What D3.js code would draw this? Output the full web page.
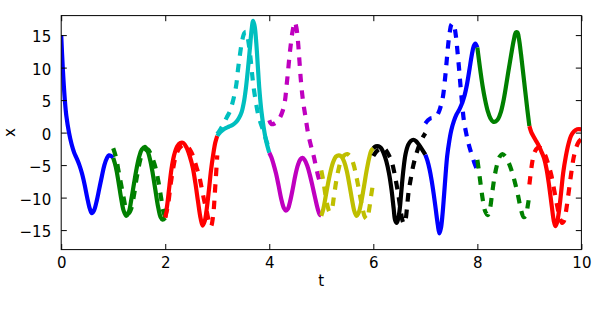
<!DOCTYPE html>
<html><head><meta charset="utf-8">
<script src="https://cdn.jsdelivr.net/npm/d3@7"></script>
<style>body{margin:0;background:#fff}svg{display:block}text{font-family:"DejaVu Sans",sans-serif;font-size:15px;fill:#000}</style>
</head><body><svg id="c" width="612" height="312"></svg>
<script>
// ---- data (t, x) ----
const xTicks = [0, 2, 4, 6, 8, 10];
const yTicks = [-15, -10, -5, 0, 5, 10, 15];
const colorCycle = ["b", "g", "r", "c", "m", "y", "k", "b", "g", "r"];

const fine0 = [[0,15],[0.03,10],[0.07,5],[0.1,2.5],[0.15,0],[0.2,-1.8],[0.25,-3.1],[0.3,-4.0],[0.35,-5.0],[0.4,-6.3],[0.45,-8.0],[0.5,-10.0],[0.55,-11.7],[0.59,-12.4],[0.63,-12.0],[0.68,-10.6],[0.73,-8.7],[0.78,-6.8],[0.83,-5.0],[0.88,-3.9],[0.92,-3.5],[0.96,-3.6],[1.0,-3.9]];
const fine1 = [[1.0,-3.9],[1.05,-5.3],[1.1,-7.5],[1.15,-10.0],[1.2,-12.0],[1.25,-12.8],[1.3,-12.2],[1.35,-10.2],[1.4,-7.8],[1.45,-5.5],[1.5,-3.7],[1.55,-2.6],[1.61,-2.2],[1.66,-2.8],[1.71,-4.2],[1.76,-6.3],[1.81,-8.8],[1.86,-11.3],[1.91,-13.0],[1.95,-13.4],[2.0,-13.1]];
const fine2 = [[2.0,-13.1],[2.04,-11.0],[2.08,-8.2],[2.12,-5.6],[2.17,-3.5],[2.23,-2.1],[2.29,-1.6],[2.35,-1.6],[2.41,-2.3],[2.47,-3.6],[2.53,-5.4],[2.58,-7.8],[2.63,-10.6],[2.68,-13.2],[2.72,-14.3],[2.76,-13.6],[2.8,-11.6],[2.84,-8.8],[2.88,-5.8],[2.92,-3.5],[2.96,-1.6],[3.0,-0.5]];
const fine3 = [[3.0,-0.5],[3.06,0.1],[3.14,0.6],[3.22,0.9],[3.3,1.2],[3.36,1.6],[3.42,2.3],[3.47,3.2],[3.51,4.6],[3.55,6.8],[3.59,9.8],[3.63,13.2],[3.66,15.8],[3.69,17.2],[3.72,16.3],[3.75,13.8],[3.78,10.2],[3.81,6.6],[3.85,3.2],[3.89,0.9],[3.94,-1.3],[4.0,-3.1]];
const fine4 = [[4.0,-3.1],[4.04,-3.8],[4.08,-4.8],[4.13,-6.3],[4.18,-8.2],[4.23,-10.2],[4.28,-11.6],[4.32,-12.0],[4.36,-11.7],[4.4,-10.6],[4.45,-8.7],[4.5,-6.6],[4.55,-5.0],[4.6,-4.1],[4.64,-3.9],[4.68,-4.2],[4.73,-5.1],[4.78,-6.5],[4.83,-8.2],[4.88,-10.0],[4.93,-11.7],[4.97,-12.6],[5.0,-12.8]];
const fine5 = [[5.0,-12.8],[5.04,-11.7],[5.08,-10.0],[5.13,-7.8],[5.18,-5.9],[5.23,-4.5],[5.28,-3.7],[5.34,-3.5],[5.39,-3.7],[5.44,-4.5],[5.49,-5.9],[5.54,-8.0],[5.59,-10.3],[5.64,-12.2],[5.68,-12.8],[5.72,-12.3],[5.77,-10.6],[5.82,-8.3],[5.87,-5.9],[5.92,-3.9],[5.96,-2.8],[6.0,-2.4]];
const fine6 = [[6.0,-2.4],[6.05,-2.1],[6.1,-2.1],[6.15,-2.4],[6.2,-3.2],[6.25,-4.4],[6.3,-6.2],[6.35,-8.8],[6.39,-11.6],[6.42,-13.5],[6.45,-13.9],[6.48,-13.2],[6.51,-11.6],[6.54,-8.9],[6.58,-5.6],[6.62,-3.3],[6.67,-1.9],[6.72,-1.3],[6.77,-1.1],[6.82,-1.3],[6.87,-1.8],[6.93,-2.5],[7.0,-3.4]];
const fine7 = [[7.0,-3.4],[7.04,-4.3],[7.08,-5.6],[7.12,-7.3],[7.16,-9.4],[7.2,-11.8],[7.24,-14.2],[7.27,-15.5],[7.3,-14.7],[7.33,-12.6],[7.36,-9.6],[7.39,-6.4],[7.42,-3.6],[7.46,-1.3],[7.5,0.4],[7.55,1.8],[7.6,2.8],[7.65,3.5],[7.7,4.4],[7.75,5.6],[7.8,7.4],[7.85,9.8],[7.89,11.8],[7.93,13.3],[7.96,13.7],[8.0,13.1]];
const fine8 = [[8.0,13.1],[8.03,11.2],[8.06,9.4],[8.1,7.2],[8.15,5.0],[8.2,3.3],[8.25,2.2],[8.3,1.7],[8.35,1.7],[8.4,2.1],[8.45,3.1],[8.5,4.8],[8.55,7.1],[8.6,9.6],[8.65,12.0],[8.7,14.2],[8.74,15.4],[8.77,15.4],[8.8,14.4],[8.84,12.0],[8.88,9.2],[8.92,6.4],[8.96,3.6],[9.0,1.0]];
const fine9 = [[9.0,1.0],[9.04,0.0],[9.08,-0.6],[9.13,-1.3],[9.18,-2.0],[9.23,-2.9],[9.28,-3.9],[9.33,-5.6],[9.38,-8.2],[9.43,-11.3],[9.47,-13.6],[9.5,-14.4],[9.53,-13.9],[9.57,-12.0],[9.61,-9.2],[9.65,-6.2],[9.7,-3.7],[9.75,-1.8],[9.8,-0.5],[9.86,0.2],[9.92,0.5],[10.0,0.5]];

const coarse1 = [[1.0,-2.4],[1.05,-3.7],[1.1,-5.8],[1.15,-7.9],[1.2,-10.0],[1.25,-11.8],[1.3,-12.4],[1.35,-11.6],[1.4,-9.6],[1.45,-7.0],[1.5,-4.9],[1.55,-3.4],[1.61,-2.7],[1.67,-2.6],[1.72,-3.3],[1.77,-4.3],[1.82,-5.6],[1.87,-7.6],[1.92,-10.0],[1.96,-12.0],[2.0,-13.0]];
const coarse2 = [[2.0,-13.0],[2.05,-11.3],[2.1,-8.2],[2.15,-5.6],[2.2,-3.7],[2.27,-2.4],[2.35,-1.9],[2.42,-2.1],[2.5,-3.0],[2.55,-4.0],[2.6,-5.3],[2.65,-6.6],[2.7,-8.5],[2.75,-10.5],[2.8,-12.2],[2.85,-14.0],[2.88,-14.4],[2.92,-12.8],[2.96,-8.5],[3.0,-3.5]];
const coarse3 = [[3.0,-0.2],[3.06,0.5],[3.12,1.3],[3.18,2.3],[3.24,3.2],[3.29,4.5],[3.33,5.8],[3.37,7.6],[3.4,9.8],[3.44,12.2],[3.48,14.2],[3.52,15.3],[3.55,15.5],[3.58,14.8],[3.61,13.4],[3.64,11.4],[3.67,9.0],[3.7,6.9],[3.74,4.8],[3.78,3.0],[3.82,1.8],[3.87,0.6],[3.93,-0.9],[4.0,-2.6]];
const coarse4 = [[4.0,1.9],[4.04,1.3],[4.1,1.4],[4.16,1.8],[4.21,2.4],[4.26,3.4],[4.3,4.8],[4.33,7.0],[4.36,9.4],[4.39,11.9],[4.42,14.0],[4.45,15.7],[4.49,17.0],[4.52,16.2],[4.55,14.2],[4.58,11.0],[4.61,7.8],[4.65,4.8],[4.7,2.2],[4.75,-0.3],[4.8,-2.0],[4.85,-3.5],[4.9,-5.3],[4.95,-7.0],[5.0,-8.0]];
const coarse5 = [[5.0,-5.8],[5.04,-7.5],[5.08,-9.6],[5.12,-11.3],[5.16,-12.2],[5.2,-11.8],[5.24,-10.0],[5.28,-7.8],[5.33,-5.7],[5.38,-4.3],[5.44,-3.5],[5.5,-3.3],[5.56,-3.7],[5.62,-4.9],[5.68,-7.0],[5.74,-9.5],[5.79,-11.6],[5.84,-13.0],[5.88,-13.3],[5.92,-11.8],[5.96,-9.6],[6.0,-7.6]];
const coarse6 = [[6.0,-3.6],[6.05,-3.0],[6.1,-2.6],[6.15,-2.4],[6.2,-2.4],[6.25,-2.8],[6.3,-3.5],[6.35,-4.4],[6.4,-6.0],[6.44,-7.7],[6.48,-9.5],[6.52,-11.7],[6.56,-13.5],[6.59,-14.0],[6.62,-13.4],[6.65,-11.3],[6.68,-9.0],[6.72,-7.1],[6.77,-5.0],[6.83,-3.2],[6.9,-1.6],[6.96,-0.6],[7.0,-0.1]];
const coarse7 = [[7.0,1.4],[7.05,1.9],[7.1,2.2],[7.16,2.3],[7.22,2.6],[7.27,3.4],[7.31,4.5],[7.34,5.6],[7.38,8.4],[7.41,11.0],[7.44,13.6],[7.47,15.5],[7.5,16.6],[7.53,16.8],[7.56,16.2],[7.59,14.7],[7.62,12.3],[7.65,9.7],[7.68,6.8],[7.71,4.2],[7.74,1.9],[7.78,0.1],[7.83,-1.7],[7.88,-3.1],[7.94,-4.6],[8.0,-5.8]];
const coarse8 = [[8.0,-4.2],[8.03,-5.9],[8.07,-8.4],[8.11,-10.6],[8.15,-12.1],[8.2,-12.7],[8.24,-11.8],[8.28,-9.6],[8.33,-6.8],[8.38,-4.9],[8.43,-3.7],[8.48,-3.3],[8.54,-3.7],[8.6,-4.6],[8.66,-5.9],[8.72,-7.6],[8.78,-9.6],[8.84,-11.9],[8.89,-13.0],[8.93,-12.8],[8.97,-11.2],[9.0,-9.6]];
const coarse9 = [[9.0,-8.0],[9.03,-6.0],[9.06,-4.3],[9.1,-3.0],[9.15,-2.4],[9.2,-2.3],[9.25,-2.7],[9.3,-3.4],[9.36,-4.8],[9.42,-6.5],[9.48,-9.0],[9.54,-11.5],[9.59,-13.3],[9.63,-13.9],[9.67,-13.5],[9.71,-11.8],[9.75,-9.5],[9.8,-6.5],[9.85,-3.9],[9.9,-2.3],[9.95,-1.4],[10.0,-1.0]];

const fineSegments = [fine0, fine1, fine2, fine3, fine4, fine5, fine6, fine7, fine8, fine9];
const coarseSegments = [null, coarse1, coarse2, coarse3, coarse4, coarse5, coarse6, coarse7, coarse8, coarse9];

// ---- drawing ----
const mplColors = {b:"#0000ff", g:"#008000", r:"#ff0000", c:"#00bfbf", m:"#bf00bf", y:"#bfbf00", k:"#000000"};
const W = 612, H = 312;
const m = {left: 61.2, right: 30.6, top: 15.6, bottom: 62.4};
const svg = d3.select("#c");
const x = d3.scaleLinear().domain([0, 10]).range([m.left, W - m.right]);
const y = d3.scaleLinear().domain([-18, 18]).range([H - m.bottom, m.top]);

svg.append("defs").append("clipPath").attr("id", "clip")
  .append("rect").attr("x", m.left).attr("y", m.top)
  .attr("width", W - m.left - m.right).attr("height", H - m.top - m.bottom);

const line = d3.line().x(d => x(d[0])).y(d => y(d[1])).curve(d3.curveCatmullRom.alpha(0.5));
const g = svg.append("g").attr("clip-path", "url(#clip)");

fineSegments.forEach((seg, i) => {
  g.append("path").datum(seg).attr("d", line)
    .attr("fill", "none").attr("stroke", mplColors[colorCycle[i]])
    .attr("stroke-width", 4.2).attr("stroke-linejoin", "round");
});
coarseSegments.forEach((seg, i) => {
  if (!seg) return;
  g.append("path").datum(seg).attr("d", line)
    .attr("fill", "none").attr("stroke", mplColors[colorCycle[i]])
    .attr("stroke-width", 4.2).attr("stroke-dasharray", "8.5,8");
});

// axes (matplotlib classic: inward ticks on all sides)
const tl = 5.6;
const axB = d3.axisBottom(x).tickValues(xTicks).tickSizeInner(-tl).tickSizeOuter(0).tickPadding(9).tickFormat(d3.format("d"));
const axT = d3.axisTop(x).tickValues(xTicks).tickSizeInner(-tl).tickSizeOuter(0).tickFormat("");
const axL = d3.axisLeft(y).tickValues(yTicks).tickSizeInner(-tl).tickSizeOuter(0).tickPadding(10).tickFormat(d3.format("d"));
const axR = d3.axisRight(y).tickValues(yTicks).tickSizeInner(-tl).tickSizeOuter(0).tickFormat("");

function style(sel) {
  sel.select(".domain").remove();
  sel.selectAll("line").attr("stroke", "#000").attr("stroke-width", 1);
  sel.selectAll("text").attr("font-family", "DejaVu Sans, sans-serif").attr("font-size", 15).attr("fill", "#000");
}
const gb = svg.append("g").attr("transform", `translate(0,${H - m.bottom})`).call(axB).call(style);
gb.selectAll("text").attr("dy", null).attr("y", 18.7);
svg.append("g").attr("transform", `translate(0,${m.top})`).call(axT).call(style);
const gl = svg.append("g").attr("transform", `translate(${m.left},0)`).call(axL).call(style);
gl.selectAll("text").attr("dy", "0.44em");
svg.append("g").attr("transform", `translate(${W - m.right},0)`).call(axR).call(style);

svg.append("rect").attr("x", m.left).attr("y", m.top)
  .attr("width", W - m.left - m.right).attr("height", H - m.top - m.bottom)
  .attr("fill", "none").attr("stroke", "#000").attr("stroke-width", 1);

svg.append("text").attr("x", (m.left + W - m.right) / 2).attr("y", 286)
  .attr("text-anchor", "middle").text("t");
svg.append("text").attr("transform", `translate(15,${y(0)}) rotate(-90)`)
  .attr("text-anchor", "middle").text("x");
</script></body></html>
